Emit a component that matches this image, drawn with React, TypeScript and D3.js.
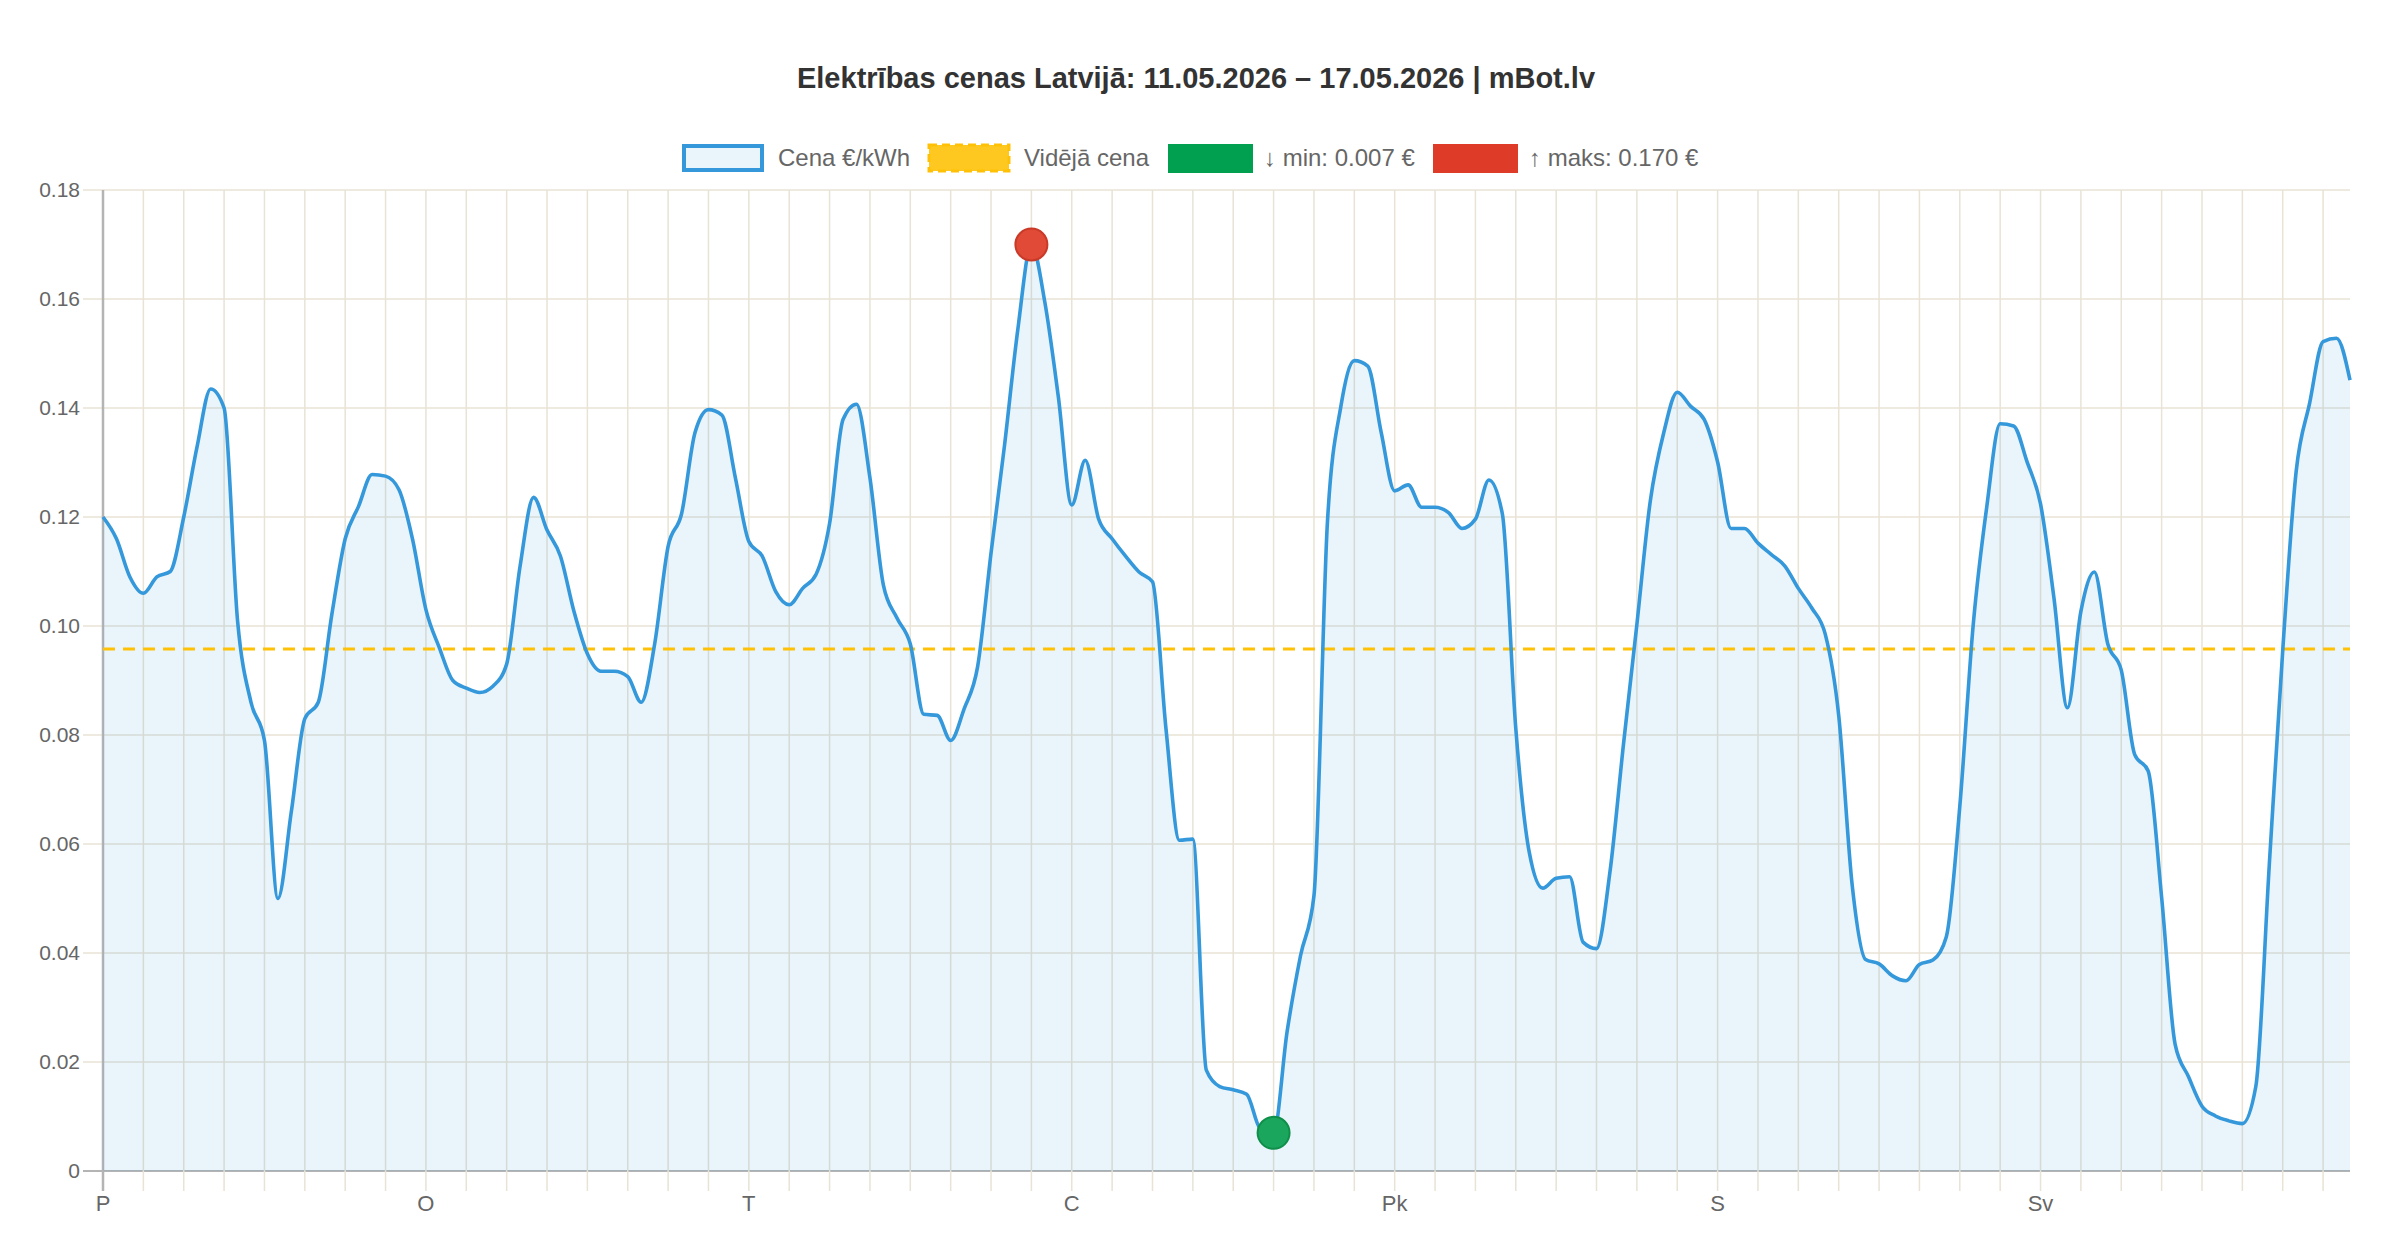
import React from 'react'
import * as d3 from 'd3'

const W = 2400
const H = 1260
const FONT = "'Liberation Sans', Arial, Helvetica, sans-serif"

// hourly prices, €/kWh, 11.05.2026 – 17.05.2026
const mon = [0.120, 0.116, 0.109, 0.106, 0.109, 0.110, 0.120, 0.133, 0.1435, 0.140, 0.101, 0.086,
  0.079, 0.050, 0.066, 0.083, 0.086, 0.102, 0.116, 0.122, 0.1278, 0.1275, 0.125, 0.116]
const tue = [0.103, 0.096, 0.090, 0.0886, 0.0878, 0.089, 0.093, 0.111, 0.1236, 0.1176, 0.1128, 0.1027,
  0.0949, 0.0917, 0.0917, 0.0907, 0.086, 0.0967, 0.1146, 0.1206, 0.1355, 0.1397, 0.1387, 0.1272]
const wed = [0.1155, 0.1128, 0.1063, 0.1039, 0.1069, 0.1095, 0.1188, 0.1379, 0.1407, 0.1272, 0.1075, 0.1015,
  0.0967, 0.0838, 0.0836, 0.079, 0.0848, 0.0925, 0.1134, 0.1331, 0.1546, 0.170, 0.1594, 0.1421]
const thu = [0.1222, 0.1304, 0.1196, 0.116, 0.1128, 0.1099, 0.1081, 0.0812, 0.0607, 0.0609, 0.0185, 0.0155,
  0.0149, 0.0141, 0.0078, 0.007, 0.0255, 0.0395, 0.0505, 0.119, 0.1403, 0.1487, 0.1477, 0.1355]
const fri = [0.1248, 0.1259, 0.1218, 0.1218, 0.1208, 0.1179, 0.1196, 0.1268, 0.1206, 0.0812, 0.0585, 0.0519,
  0.0537, 0.054, 0.042, 0.0408, 0.0549, 0.0782, 0.1003, 0.123, 0.1355, 0.1429, 0.1403, 0.1379]
const sat = [0.1301, 0.1179, 0.1179, 0.1152, 0.1131, 0.111, 0.1069, 0.1033, 0.0985, 0.0836, 0.0525, 0.0388,
  0.038, 0.0358, 0.0349, 0.0379, 0.0387, 0.043, 0.0669, 0.1003, 0.1218, 0.1371, 0.1367, 0.1301]
const sun = [0.1224, 0.1051, 0.085, 0.1027, 0.1099, 0.0967, 0.0919, 0.0764, 0.0734, 0.0502, 0.0233, 0.0173,
  0.0119, 0.0101, 0.0092, 0.0087, 0.0155, 0.0561, 0.0955, 0.1284, 0.1409, 0.1522, 0.1528, 0.1451]

const dayLabels = ['P', 'O', 'T', 'C', 'Pk', 'S', 'Sv']
const yTicks = [0, 0.02, 0.04, 0.06, 0.08, 0.10, 0.12, 0.14, 0.16, 0.18]
const avgPrice = 0.0958
const title = 'Elektrības cenas Latvijā: 11.05.2026 – 17.05.2026 | mBot.lv'

const prices = [...mon, ...tue, ...wed, ...thu, ...fri, ...sat, ...sun]

const margin = { left: 103, right: 2350, top: 190, bottom: 1171 }
const gridColor = '#e8e3d5'
const axisColor = '#b4b4b4'
const lineColor = '#3498db'

export default function App() {
  const x = d3.scaleLinear().domain([0, prices.length - 1]).range([margin.left, margin.right])
  const y = d3.scaleLinear().domain([0, 0.18]).range([margin.bottom, margin.top])

  const line = d3.line<number>().x((_, i) => x(i)).y(d => y(d)).curve(d3.curveMonotoneX)
  const area = d3.area<number>().x((_, i) => x(i)).y0(y(0)).y1(d => y(d)).curve(d3.curveMonotoneX)

  const minV = d3.min(prices) as number
  const maxV = d3.max(prices) as number
  const minI = prices.indexOf(minV)
  const maxI = prices.indexOf(maxV)

  const vTicks = d3.range(0, prices.length, 3)

  const legend = [
    { x: 682, label: 'Cena €/kWh', kind: 'line' },
    { x: 928, label: 'Vidējā cena', kind: 'avg' },
    { x: 1168, label: `↓ min: ${minV.toFixed(3)} €`, kind: 'min' },
    { x: 1433, label: `↑ maks: ${maxV.toFixed(3)} €`, kind: 'max' },
  ]

  return (
    <svg width={W} height={H} style={{ position: 'absolute', left: 0, top: 0, background: '#fff' }}
      fontFamily={FONT}>
      <text x={1196} y={88} textAnchor="middle" fontSize={29} fontWeight="bold" fill="#333">{title}</text>

      {legend.map(l => (
        <g key={l.label}>
          {l.kind === 'line' && (
            <rect x={l.x + 2} y={146} width={78} height={24} fill="#eaf4fb" stroke={lineColor} strokeWidth={4} />
          )}
          {l.kind === 'avg' && (
            <rect x={l.x + 1} y={145} width={80} height={26} fill="#ffc820" stroke="#ffc107" strokeWidth={3}
              strokeDasharray="8 5" />
          )}
          {l.kind === 'min' && <rect x={l.x} y={144} width={85} height={29} fill="#00a050" />}
          {l.kind === 'max' && <rect x={l.x} y={144} width={85} height={29} fill="#de3c28" />}
          <text x={l.x + 96} y={166} fontSize={24} fill="#666">{l.label}</text>
        </g>
      ))}

      {/* grid */}
      {yTicks.map(t => (
        <line key={'h' + t} x1={margin.left - 20} x2={margin.right} y1={y(t)} y2={y(t)}
          stroke={t === 0 ? axisColor : gridColor} strokeWidth={t === 0 ? 2 : 1.5} />
      ))}
      {vTicks.map(i => (
        <line key={'v' + i} x1={x(i)} x2={x(i)} y1={margin.top} y2={margin.bottom + 20}
          stroke={i === 0 ? axisColor : gridColor} strokeWidth={i === 0 ? 2.5 : 1.5} />
      ))}

      {yTicks.map(t => (
        <text key={'yl' + t} x={margin.left - 23} y={y(t)} dy="0.35em" textAnchor="end" fontSize={21} fill="#666">
          {t === 0 ? '0' : d3.format('.2f')(t)}
        </text>
      ))}
      {dayLabels.map((d, i) => (
        <text key={d} x={x(i * 24)} y={1211} textAnchor="middle" fontSize={22} fill="#666">{d}</text>
      ))}

      <path d={area(prices) || ''} fill="rgba(52,152,219,0.1)" />
      <line x1={margin.left} x2={margin.right} y1={y(avgPrice)} y2={y(avgPrice)}
        stroke="#ffc107" strokeWidth={3} strokeDasharray="12 8" />
      <path d={line(prices) || ''} fill="none" stroke={lineColor} strokeWidth={3.6} strokeLinejoin="round" />

      <circle cx={x(maxI)} cy={y(maxV)} r={16} fill="#e04a36" stroke="#c93a28" strokeWidth={2} />
      <circle cx={x(minI)} cy={y(minV)} r={16} fill="#1aa65c" stroke="#0f8f4a" strokeWidth={2} />
    </svg>
  )
}
